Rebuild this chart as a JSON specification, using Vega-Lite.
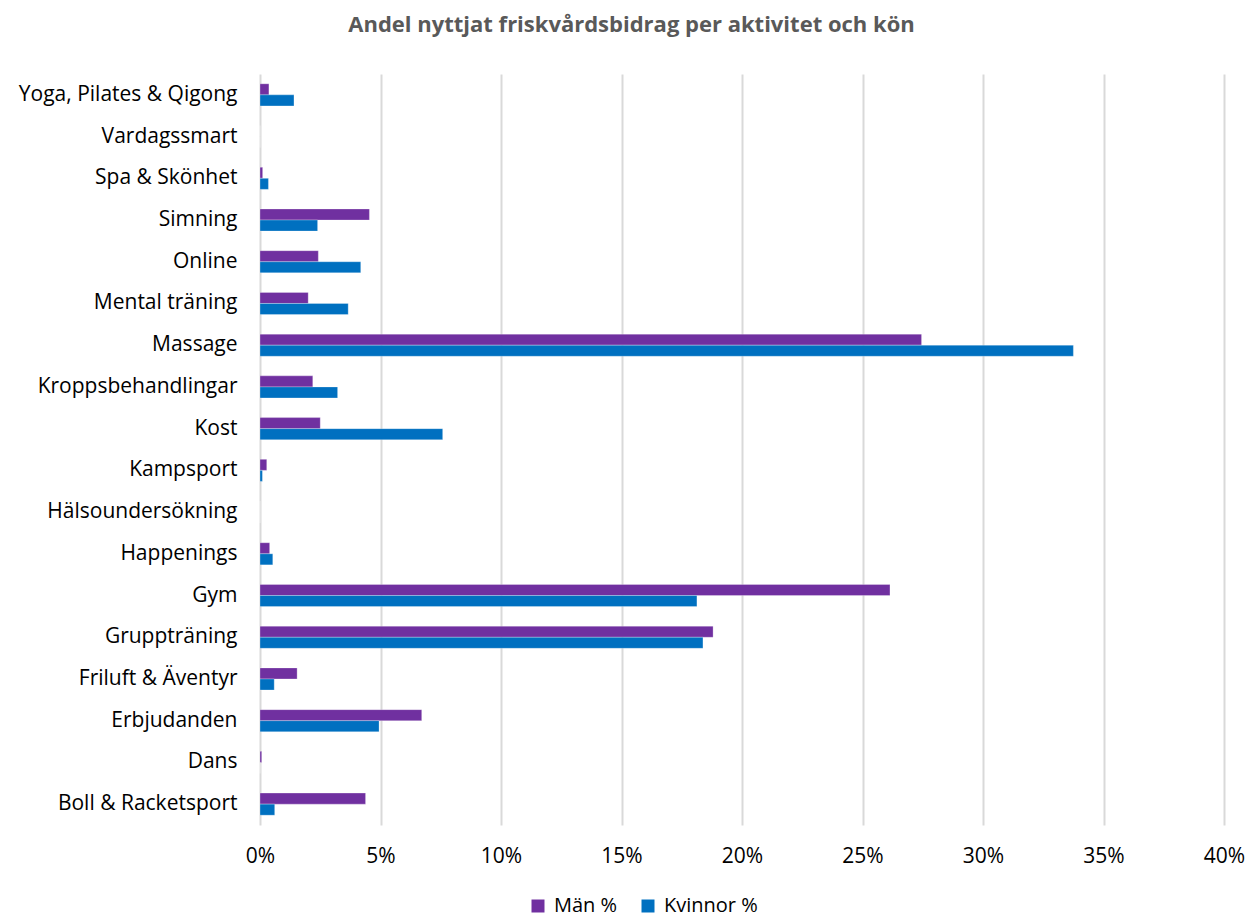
{
  "$schema": "https://vega.github.io/schema/vega-lite/v6.json",
  "width": 964,
  "height": 751,
  "autosize": {"type": "none"},
  "padding": {"left": 260, "top": 74, "right": 26, "bottom": 92},
  "background": "white",
  "title": {
    "text": "Andel nyttjat friskvårdsbidrag per aktivitet och kön",
    "font": "Open Sans",
    "fontSize": 22,
    "fontWeight": "bold",
    "color": "#595959",
    "anchor": "middle",
    "frame": "bounds",
    "offset": 37
  },
  "data": {
    "values": [
      {"aktivitet": "Yoga, Pilates & Qigong ", "kon": "Män %", "andel": 0.37},
      {"aktivitet": "Yoga, Pilates & Qigong ", "kon": "Kvinnor %", "andel": 1.41},
      {"aktivitet": "Vardagssmart", "kon": "Män %", "andel": 0},
      {"aktivitet": "Vardagssmart", "kon": "Kvinnor %", "andel": 0},
      {"aktivitet": "Spa & Skönhet", "kon": "Män %", "andel": 0.11},
      {"aktivitet": "Spa & Skönhet", "kon": "Kvinnor %", "andel": 0.35},
      {"aktivitet": "Simning", "kon": "Män %", "andel": 4.54},
      {"aktivitet": "Simning", "kon": "Kvinnor %", "andel": 2.39},
      {"aktivitet": "Online", "kon": "Män %", "andel": 2.42},
      {"aktivitet": "Online", "kon": "Kvinnor %", "andel": 4.18},
      {"aktivitet": "Mental träning", "kon": "Män %", "andel": 2.0},
      {"aktivitet": "Mental träning", "kon": "Kvinnor %", "andel": 3.66},
      {"aktivitet": "Massage", "kon": "Män %", "andel": 27.45},
      {"aktivitet": "Massage", "kon": "Kvinnor %", "andel": 33.75},
      {"aktivitet": "Kroppsbehandlingar", "kon": "Män %", "andel": 2.19},
      {"aktivitet": "Kroppsbehandlingar", "kon": "Kvinnor %", "andel": 3.22},
      {"aktivitet": "Kost", "kon": "Män %", "andel": 2.5},
      {"aktivitet": "Kost", "kon": "Kvinnor %", "andel": 7.58},
      {"aktivitet": "Kampsport", "kon": "Män %", "andel": 0.28},
      {"aktivitet": "Kampsport", "kon": "Kvinnor %", "andel": 0.1},
      {"aktivitet": "Hälsoundersökning", "kon": "Män %", "andel": 0},
      {"aktivitet": "Hälsoundersökning", "kon": "Kvinnor %", "andel": 0},
      {"aktivitet": "Happenings", "kon": "Män %", "andel": 0.4},
      {"aktivitet": "Happenings", "kon": "Kvinnor %", "andel": 0.53},
      {"aktivitet": "Gym", "kon": "Män %", "andel": 26.14},
      {"aktivitet": "Gym", "kon": "Kvinnor %", "andel": 18.13},
      {"aktivitet": "Gruppträning", "kon": "Män %", "andel": 18.8},
      {"aktivitet": "Gruppträning", "kon": "Kvinnor %", "andel": 18.38},
      {"aktivitet": "Friluft & Äventyr", "kon": "Män %", "andel": 1.54},
      {"aktivitet": "Friluft & Äventyr", "kon": "Kvinnor %", "andel": 0.59},
      {"aktivitet": "Erbjudanden", "kon": "Män %", "andel": 6.71},
      {"aktivitet": "Erbjudanden", "kon": "Kvinnor %", "andel": 4.94},
      {"aktivitet": "Dans", "kon": "Män %", "andel": 0.07},
      {"aktivitet": "Dans", "kon": "Kvinnor %", "andel": 0},
      {"aktivitet": "Boll & Racketsport", "kon": "Män %", "andel": 4.38},
      {"aktivitet": "Boll & Racketsport", "kon": "Kvinnor %", "andel": 0.61}
    ]
  },
  "mark": {"type": "bar", "stroke": "#ffffff", "strokeOpacity": 0.35, "strokeWidth": 0.8},
  "encoding": {
    "y": {
      "field": "aktivitet",
      "type": "nominal",
      "sort": ["Yoga, Pilates & Qigong ", "Vardagssmart", "Spa & Skönhet", "Simning", "Online", "Mental träning", "Massage", "Kroppsbehandlingar", "Kost", "Kampsport", "Hälsoundersökning", "Happenings", "Gym", "Gruppträning", "Friluft & Äventyr", "Erbjudanden", "Dans", "Boll & Racketsport"],
      "scale": {"paddingInner": 0.47, "paddingOuter": 0.235},
      "axis": {
        "title": null,
        "domain": false,
        "ticks": false,
        "labelFont": "Open Sans",
        "labelFontSize": 21,
        "labelColor": "#000000",
        "labelPadding": 23,
        "labelLimit": 0
      }
    },
    "yOffset": {
      "field": "kon",
      "type": "nominal",
      "sort": ["Män %", "Kvinnor %"]
    },
    "x": {
      "field": "andel",
      "type": "quantitative",
      "scale": {"domain": [0, 40], "nice": false},
      "axis": {
        "title": null,
        "values": [0, 5, 10, 15, 20, 25, 30, 35, 40],
        "labelExpr": "datum.value + '%'",
        "labelFlush": false,
        "domain": false,
        "ticks": false,
        "grid": true,
        "gridColor": "#D9D9D9",
        "gridWidth": 2,
        "labelFont": "Open Sans",
        "labelFontSize": 21,
        "labelColor": "#000000",
        "labelPadding": 20
      }
    },
    "color": {
      "field": "kon",
      "type": "nominal",
      "sort": ["Män %", "Kvinnor %"],
      "scale": {"domain": ["Män %", "Kvinnor %"], "range": ["#7030A0", "#0070C0"]},
      "legend": {
        "title": null,
        "orient": "none",
        "direction": "horizontal",
        "legendX": 268,
        "legendY": 822,
        "symbolType": "square",
        "symbolSize": 169,
        "symbolStrokeWidth": 0,
        "labelFont": "Open Sans",
        "labelFontSize": 20,
        "labelColor": "#000000",
        "columnPadding": 20,
        "labelOffset": 6
      }
    }
  },
  "config": {"view": {"stroke": null}}
}
